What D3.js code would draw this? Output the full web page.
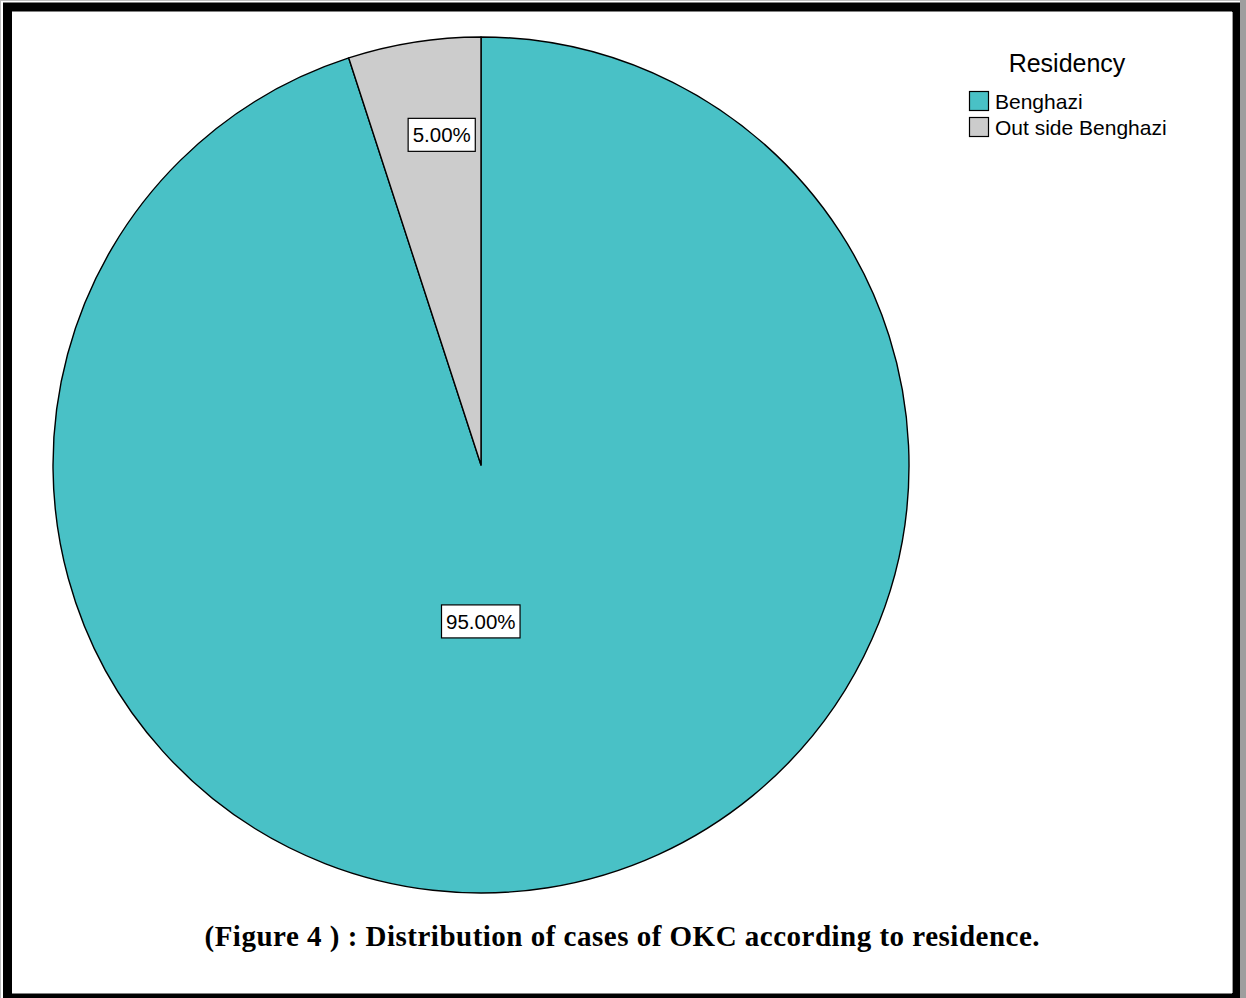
<!DOCTYPE html>
<html>
<head>
<meta charset="utf-8">
<script src="https://cdn.jsdelivr.net/npm/d3@7/dist/d3.min.js"></script>
<style>
  html, body { margin: 0; padding: 0; background: #fff; }
  svg { display: block; }
</style>
</head>
<body>
<svg id="chart" width="1246" height="998"></svg>
<script>
// Residency of OKC cases (percent of cases)
const categories = ["Benghazi", "Out side Benghazi"];
const percents = [95.0, 5.0];
const colors = ["#49c1c6", "#cccccc"];
const legendTitle = "Residency";
const caption = "(Figure 4 ) : Distribution of cases of OKC according to residence.";

const W = 1246, H = 998;
const svg = d3.select("#chart");

// Page frame: light grey outline with a heavy black border
svg.append("rect").attr("x", 0.5).attr("y", 0.5).attr("width", W).attr("height", H + 10)
  .attr("fill", "none").attr("stroke", "#bdbdbd").attr("stroke-width", 1);
svg.append("rect").attr("x", 7.5).attr("y", 7).attr("width", 1229).attr("height", 991)
  .attr("fill", "#fff").attr("stroke", "#000").attr("stroke-width", 9);
svg.append("rect").attr("x", 1240).attr("y", 0).attr("width", 6).attr("height", H)
  .attr("fill", "#9e9e9e");
svg.append("line").attr("x1", 1232.5).attr("x2", 1232.5).attr("y1", 12).attr("y2", 993)
  .attr("stroke", "#9a9a9a").attr("stroke-width", 1);

// Pie
const cx = 481, cy = 465, R = 428;
const data = categories.map((c, i) => ({ name: c, value: percents[i], color: colors[i] }));
const pie = d3.pie().value(d => d.value).sort(null);
const arcs = pie(data);
const arc = d3.arc().innerRadius(0).outerRadius(R);

const g = svg.append("g").attr("transform", `translate(${cx},${cy})`);
g.selectAll("path.slice").data(arcs).join("path")
  .attr("class", "slice")
  .attr("d", arc)
  .attr("fill", d => d.data.color)
  .attr("stroke", "#000")
  .attr("stroke-width", 1.4)
  .attr("stroke-linejoin", "round");

// Value labels in boxed call-outs
const labelRadius = [0.37, 0.781];
const labelShift = [-25, 13];
const fmt = v => v.toFixed(2) + "%";
arcs.forEach((a, i) => {
  const mid = (a.startAngle + a.endAngle) / 2;
  const r = R * labelRadius[i];
  const x = Math.sin(mid) * r + labelShift[i];
  const y = -Math.cos(mid) * r;
  const lg = g.append("g").attr("transform", `translate(${x},${y})`);
  const t = lg.append("text")
    .attr("text-anchor", "middle")
    .attr("dy", "0.36em")
    .attr("font-family", "Liberation Sans, Arial, sans-serif")
    .attr("font-size", 20.5)
    .attr("fill", "#000")
    .text(fmt(a.data.value));
  const bb = t.node().getBBox();
  lg.insert("rect", "text")
    .attr("x", bb.x - 4.5).attr("y", -16.5)
    .attr("width", bb.width + 9).attr("height", 33)
    .attr("fill", "#fff").attr("stroke", "#000").attr("stroke-width", 1.2);
});

// Legend
const lgX = 969, lgY = 91;
svg.append("text")
  .attr("x", 1067).attr("y", 72)
  .attr("text-anchor", "middle")
  .attr("font-family", "Liberation Sans, Arial, sans-serif")
  .attr("font-size", 25)
  .attr("fill", "#000")
  .text(legendTitle);
const items = svg.selectAll("g.legend-item").data(data).join("g")
  .attr("class", "legend-item")
  .attr("transform", (d, i) => `translate(${lgX},${lgY + i * 26})`);
items.append("rect")
  .attr("x", 0.5).attr("y", 0.5).attr("width", 19).attr("height", 19)
  .attr("fill", d => d.color).attr("stroke", "#000").attr("stroke-width", 1.2);
items.append("text")
  .attr("x", 26).attr("y", 18)
  .attr("font-family", "Liberation Sans, Arial, sans-serif")
  .attr("font-size", 21)
  .attr("fill", "#000")
  .text(d => d.name);

// Caption
svg.append("text")
  .attr("x", 622).attr("y", 946)
  .attr("text-anchor", "middle")
  .attr("font-family", "Liberation Serif, Times New Roman, serif")
  .attr("font-weight", "bold")
  .attr("font-size", 29)
  .attr("textLength", 835)
  .attr("lengthAdjust", "spacing")
  .attr("fill", "#000")
  .text(caption);
</script>
</body>
</html>
